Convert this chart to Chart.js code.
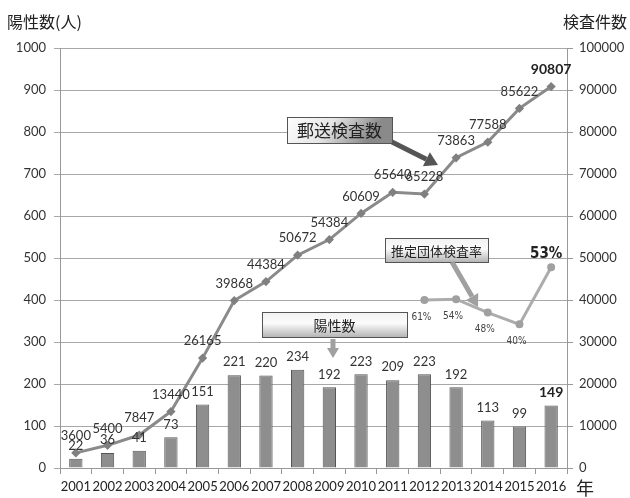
<!DOCTYPE html>
<html>
<head>
<meta charset="utf-8">
<script src="https://cdn.jsdelivr.net/npm/chart.js@4.4.1/dist/chart.umd.min.js"></script>
<style>
  html, body { margin: 0; padding: 0; background: #fff; }
  #wrap { width: 630px; height: 498px; position: relative; }
</style>
</head>
<body>
<div id="wrap"><canvas id="myChart" width="630" height="498"></canvas></div>
<script>
// |------------------------------- data -------------------------------|

var years = ['2001', '2002', '2003', '2004', '2005', '2006', '2007', '2008',
             '2009', '2010', '2011', '2012', '2013', '2014', '2015', '2016'];
// 陽性数 (bars, left axis)
var positives = [22, 36, 41, 73, 151, 221, 220, 234, 192, 223, 209, 223, 192, 113, 99, 149];
// 郵送検査数 (line, right axis)
var tests = [3600, 5400, 7847, 13440, 26165, 39868, 44384, 50672, 54384, 60609,
             65640, 65228, 73863, 77588, 85622, 90807];
// 推定団体検査率 : drawn positions (right axis units) and their labels
var ratePos = [null, null, null, null, null, null, null, null, null, null, null,
               40000, 40200, 37000, 34200, 47800];
var rateLabels = [null, null, null, null, null, null, null, null, null, null, null,
                  '61%', '54%', '48%', '40%', '53%'];
var leftTicks = [0, 100, 200, 300, 400, 500, 600, 700, 800, 900, 1000];
var rightTicks = [0, 10000, 20000, 30000, 40000, 50000, 60000, 70000, 80000, 90000, 100000];

var FONT = 'Lato, "Noto Sans", sans-serif';
var CJK = '"Noto Sans CJK JP", "Noto Sans", sans-serif';

// |------------------------------- helpers -------------------------------|

function arrow(ctx, x1, y1, x2, y2, w, head, color) {
  var a = Math.atan2(y2 - y1, x2 - x1);
  var bx = x2 - Math.cos(a) * head, by = y2 - Math.sin(a) * head;
  ctx.save();
  ctx.strokeStyle = color;
  ctx.fillStyle = color;
  ctx.lineWidth = w;
  ctx.beginPath();
  ctx.moveTo(x1, y1);
  ctx.lineTo(bx, by);
  ctx.stroke();
  ctx.beginPath();
  ctx.moveTo(x2, y2);
  ctx.lineTo(bx + Math.cos(a + Math.PI / 2) * head * 0.6, by + Math.sin(a + Math.PI / 2) * head * 0.6);
  ctx.lineTo(bx + Math.cos(a - Math.PI / 2) * head * 0.6, by + Math.sin(a - Math.PI / 2) * head * 0.6);
  ctx.closePath();
  ctx.fill();
  ctx.restore();
}

function box(ctx, x, y, w, h, text, size, diag) {
  ctx.save();
  var g = diag ? ctx.createLinearGradient(x, y, x + w * 0.6, y + h * 1.8)
               : ctx.createLinearGradient(x, y, x, y + h);
  if (diag) {
    g.addColorStop(0, '#ffffff');
    g.addColorStop(0.5, '#e6e6e6');
    g.addColorStop(1, '#8a8a8a');
  } else {
    g.addColorStop(0, '#f2f2f2');
    g.addColorStop(0.45, '#fbfbfb');
    g.addColorStop(1, '#b5b5b5');
  }
  ctx.fillStyle = g;
  ctx.fillRect(x, y, w, h);
  ctx.strokeStyle = '#555';
  ctx.lineWidth = 1;
  ctx.strokeRect(x + 0.5, y + 0.5, w, h);
  ctx.fillStyle = '#222';
  ctx.font = size + 'px ' + CJK;
  ctx.textAlign = 'center';
  ctx.textBaseline = 'middle';
  ctx.fillText(text, x + w / 2, y + h / 2 + 1);
  ctx.restore();
}

// |------------------------------- labels & callouts plugin -------------------------------|

var extras = {
  id: 'extras',
  afterDatasetsDraw: function (chart) {
    var ctx = chart.ctx;
    ctx.save();
    ctx.textAlign = 'center';
    ctx.textBaseline = 'middle';
    ctx.fillStyle = '#333';

    // bar labels
    var bars = chart.getDatasetMeta(0).data;
    bars.forEach(function (b, i) {
      var last = i === positives.length - 1;
      ctx.font = (last ? 'bold 14px ' : '13px ') + FONT;
      ctx.fillStyle = last ? '#222' : '#333';
      ctx.fillText(positives[i], b.x, b.y - 13);
    });

    // line labels
    var pts = chart.getDatasetMeta(1).data;
    pts.forEach(function (p, i) {
      var last = i === tests.length - 1;
      ctx.font = (last ? 'bold 14px ' : '13px ') + FONT;
      ctx.fillStyle = last ? '#222' : '#333';
      ctx.fillText(tests[i], p.x, p.y - 17);
    });

    // rate labels
    var rp = chart.getDatasetMeta(2).data;
    rp.forEach(function (p, i) {
      if (!rateLabels[i]) return;
      if (i === rateLabels.length - 1) {
        ctx.font = 'bold 15px "Liberation Sans Narrow", "DejaVu Sans Condensed", sans-serif';
        ctx.fillStyle = '#222';
        ctx.fillText(rateLabels[i], p.x - 5, p.y - 13);
      } else {
        ctx.font = '10px "Liberation Sans Narrow", "DejaVu Sans Condensed", sans-serif';
        ctx.fillStyle = '#444';
        ctx.fillText(rateLabels[i], p.x - 3, p.y + 17);
      }
    });

    // titles
    ctx.fillStyle = '#222';
    ctx.font = '16px ' + CJK;
    ctx.textAlign = 'left';
    ctx.fillText('陽性数(人)', 7, 22);
    ctx.textAlign = 'right';
    ctx.fillText('検査件数', 627, 22);
    ctx.textAlign = 'left';
    ctx.font = '18px ' + CJK;
    ctx.fillText('年', 576, 488);
    ctx.restore();

    // callouts
    box(ctx, 287, 117, 105, 26, '郵送検査数', 17, true);
    arrow(ctx, 392, 142, 438, 165, 5, 13, '#555');
    box(ctx, 385, 238, 103, 24, '推定団体検査率', 13, false);
    arrow(ctx, 452, 262, 478, 307, 5, 12, '#a0a0a0');
    box(ctx, 262, 312, 145, 25, '陽性数', 14, false);
    arrow(ctx, 333, 339, 333, 358, 5, 10, '#a0a0a0');
  }
};

// |------------------------------- Chart.js - Bar + Line -------------------------------|

var ctx = document.getElementById('myChart').getContext('2d');
var myChart = new Chart(ctx, {
  type: 'bar',
  data: {
    labels: years,
    datasets: [{
      type: 'bar',
      label: '陽性数',
      data: positives,
      yAxisID: 'y',
      backgroundColor: '#8e8e8e',
      borderColor: '#555',
      borderWidth: 1,
      barPercentage: 0.42,
      categoryPercentage: 1,
      order: 3
    }, {
      type: 'line',
      label: '郵送検査数',
      data: tests,
      yAxisID: 'y1',
      borderColor: '#8a8a8a',
      borderWidth: 3,
      pointStyle: 'rectRot',
      pointRadius: 2.5,
      pointBackgroundColor: '#808080',
      pointBorderColor: '#808080',
      tension: 0,
      order: 1
    }, {
      type: 'line',
      label: '推定団体検査率',
      data: ratePos,
      yAxisID: 'y1',
      borderColor: '#acacac',
      borderWidth: 3,
      pointRadius: 2.5,
      pointBackgroundColor: '#a0a0a0',
      pointBorderColor: '#a0a0a0',
      tension: 0,
      order: 2
    }]
  },
  options: {
    responsive: false,
    animation: false,
    layout: { padding: { top: 48, right: 0, left: 0, bottom: 0 } },
    plugins: {
      legend: { display: false },
      tooltip: { enabled: false }
    },
    scales: {
      x: {
        offset: true,
        afterFit: function (s) { s.height = 30; },
        grid: { display: true, drawOnChartArea: false, offset: true, tickLength: 6, color: '#999' },
        border: { color: '#999' },
        ticks: { color: '#222', font: { family: FONT, size: 13 }, padding: 5, maxRotation: 0, autoSkip: false }
      },
      y: {
        position: 'left',
        min: 0,
        max: 1000,
        afterBuildTicks: function (s) { s.ticks = leftTicks.map(function (v) { return { value: v }; }); },
        afterFit: function (s) { s.width = 60; },
        grid: { color: '#a8a8a8', tickLength: 6 },
        border: { color: '#999' },
        ticks: { color: '#333', font: { family: FONT, size: 13 }, padding: 8,
                 callback: function (v) { return String(v); } }
      },
      y1: {
        position: 'right',
        min: 0,
        max: 100000,
        afterBuildTicks: function (s) { s.ticks = rightTicks.map(function (v) { return { value: v }; }); },
        afterFit: function (s) { s.width = 63; },
        grid: { drawOnChartArea: false, tickLength: 6, color: '#999' },
        border: { color: '#999' },
        ticks: { color: '#333', font: { family: FONT, size: 13 }, padding: 6,
                 callback: function (v) { return String(v); } }
      }
    }
  },
  plugins: [extras]
});
</script>
</body>
</html>
